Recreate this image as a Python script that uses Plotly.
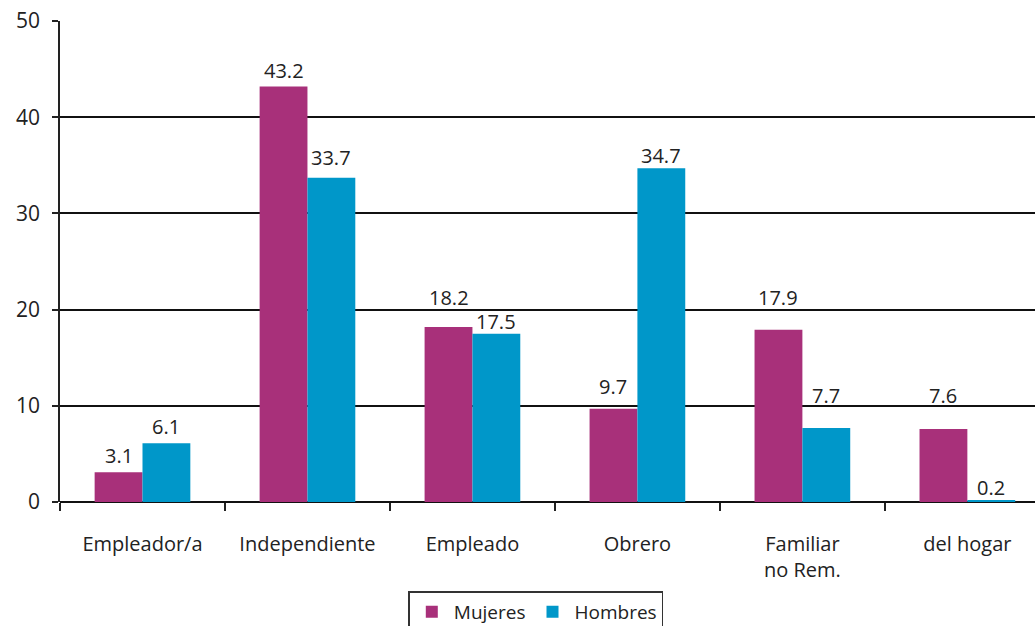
import plotly.graph_objects as go

categories = ["Empleador/a", "Independiente", "Empleado", "Obrero", "Familiar<br>no Rem.", "del hogar"]
mujeres = [3.1, 43.2, 18.2, 9.7, 17.9, 7.6]
hombres = [6.1, 33.7, 17.5, 34.7, 7.7, 0.2]
y_ticks = [0, 10, 20, 30, 40, 50]

# label vertical offsets (style, px)
shift_m = [17, 16, 29, 22, 32, 33]
shift_h = [17, 20, 12, 13, 32, 13]

C_M = "#A8307A"
C_H = "#0097C9"
FONT = "Open Sans"

fig = go.Figure()
fig.add_trace(go.Bar(x=categories, y=mujeres, name="Mujeres", marker_color=C_M,
                     marker_line_width=0, offsetgroup="m"))
fig.add_trace(go.Bar(x=categories, y=hombres, name="Hombres", marker_color=C_H,
                     marker_line_width=0, offsetgroup="h"))

bargap = 0.42
half = (1 - bargap) / 4
for i, c in enumerate(categories):
    fig.add_annotation(x=i - half, y=mujeres[i], text=f"{mujeres[i]:.1f}", showarrow=False,
                       yanchor="middle", yshift=shift_m[i], font=dict(size=20, color="#222", family=FONT))
    fig.add_annotation(x=i + half, y=hombres[i], text=f"{hombres[i]:.1f}", showarrow=False,
                       yanchor="middle", yshift=shift_h[i], font=dict(size=20, color="#222", family=FONT))

fig.update_layout(
    width=1035, height=626,
    margin=dict(l=60, r=0, t=21, b=124, autoexpand=False),
    paper_bgcolor="white", plot_bgcolor="white",
    barmode="group", bargap=bargap, bargroupgap=0,
    font=dict(family=FONT, color="#222"),
    showlegend=True,
    legend=dict(orientation="h", x=0.488, xanchor="center", y=-0.186, yanchor="top",
                bordercolor="#333", borderwidth=1.5, font=dict(size=19, family=FONT),
                itemwidth=34, traceorder="normal", tracegroupgap=0),
    xaxis=dict(range=[-0.5, 5.41], showgrid=False, tickson="boundaries", ticks="outside",
               ticklen=8, tickwidth=1.5, tickcolor="#222", showline=False, automargin=False,
               tickfont=dict(size=20, family=FONT, color="#222"), ticklabelstandoff=28,
               fixedrange=True),
    yaxis=dict(range=[0, 50], tickvals=y_ticks, showgrid=True, gridcolor="#111", gridwidth=1.5,
               ticks="outside", ticklen=6, tickwidth=1.5, tickcolor="#222", automargin=False,
               showline=True, linecolor="#222", linewidth=1.5, ticklabeloverflow="allow",
               zeroline=True, zerolinecolor="#111", zerolinewidth=1.5,
               tickfont=dict(size=21, family=FONT, color="#222"), ticklabelstandoff=8),
)
fig.write_html("out.html", config={"displayModeBar": False},
               post_script="document.body.style.margin='0';document.body.style.overflow='hidden';")
